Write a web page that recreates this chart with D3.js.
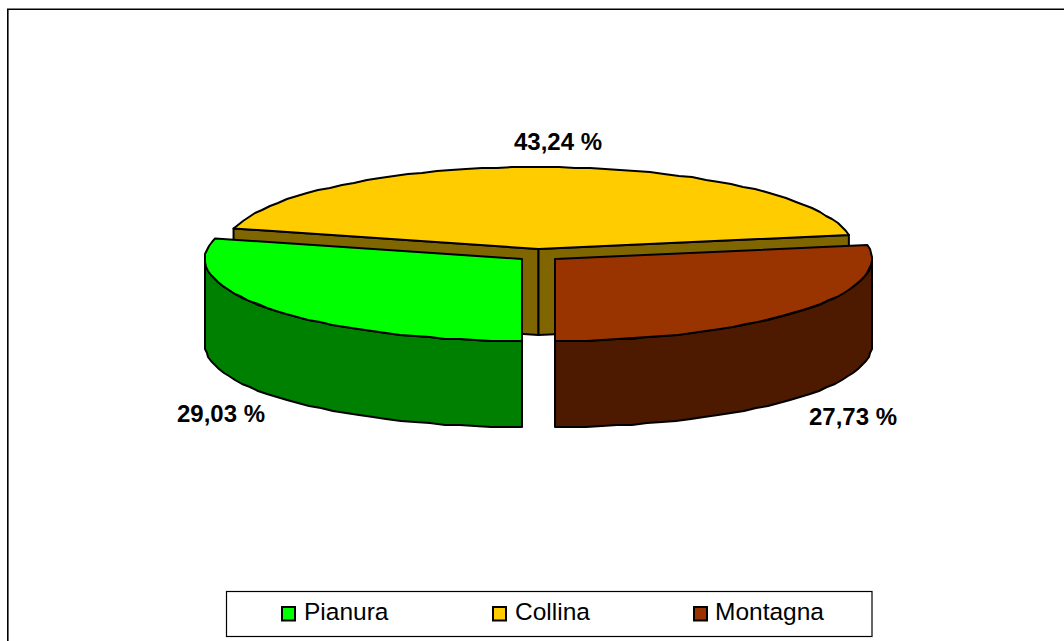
<!DOCTYPE html>
<html><head><meta charset="utf-8">
<script src="https://cdnjs.cloudflare.com/ajax/libs/d3/7.8.5/d3.min.js"></script>
<style>html,body{margin:0;padding:0;background:#fff}svg{display:block}
text{font-family:"Liberation Sans",Arial,sans-serif;fill:#000}</style></head>
<body><svg id="c" width="1064" height="641"></svg>
<script>
const categories = ["Pianura", "Collina", "Montagna"];
const values = [29.03, 43.24, 27.73];
const valueLabels = ["29,03 %", "43,24 %", "27,73 %"];
const topColors = ["#00ff00", "#ffcc00", "#993300"];
const sideColors = ["#008000", "#806600", "#4d1a00"];

const W = 1064, H = 641;
const svg = d3.select("#c");
const radiiX = [317, 315, 317];
const ry = 82, depth = 86;
// slice centres (exploded): apex of each wedge
const apex = [[522, 259], [538.5, 249], [555, 259]];
const labelPos = [[221, 422], [558, 150], [853, 425]];

const pie = d3.pie().value(d => d).sort(null).startAngle(Math.PI).endAngle(3 * Math.PI);
const arcs = pie(values);
const yScale = d3.scaleLinear().domain([0, 1]).range([0, ry]);
const line = d3.line();
const G = 1; // coarse device grid of the source metafile
const snap = v => Math.round(v / G) * G;

function pt(i, a, dz = 0) {
  return [apex[i][0] + radiiX[i] * Math.sin(a), apex[i][1] - yScale(1) * Math.cos(a) + dz];
}
function rim(i, a0, a1, dz = 0) {
  const n = Math.max(2, Math.ceil(Math.abs(a1 - a0) / 0.05));
  return d3.range(n + 1).map(k => {
    const p = pt(i, a0 + (a1 - a0) * k / n, dz);
    return (k === 0 || k === n) ? p : [snap(p[0]), snap(p[1])];
  });
}

const g = svg.append("g").attr("stroke", "#000").attr("stroke-width", 2).attr("stroke-linejoin", "round");

// frame
svg.append("path").attr("d", line([[7.8, H], [7.8, 9.2], [W, 9.2]])).attr("fill", "none").attr("stroke", "#000").attr("stroke-width", 1.6);

// Collina inner walls (behind)
{
  const i = 1, a = arcs[i];
  const c = apex[i];
  const l = pt(i, a.startAngle), r = pt(i, a.endAngle);
  g.append("path").attr("fill", sideColors[i]).attr("d", line([c, l, [l[0], l[1] + depth], [c[0], c[1] + depth]]) + "Z");
  g.append("path").attr("fill", sideColors[i]).attr("d", line([c, r, [r[0], r[1] + depth], [c[0], c[1] + depth]]) + "Z");
  g.append("path").attr("fill", topColors[i]).attr("d", line([c, ...rim(i, a.startAngle, a.endAngle)]) + "Z");
}
// Pianura
{
  const i = 0, a = arcs[i];
  const s0 = a.startAngle, s1 = 1.5 * Math.PI;
  const top = rim(i, s0, s1), bot = rim(i, s1, s0, depth);
  g.append("path").attr("fill", sideColors[i]).attr("d", line([...top, ...bot]) + "Z");
  g.append("path").attr("fill", topColors[i]).attr("d", line([apex[i], ...rim(i, a.startAngle, a.endAngle)]) + "Z");
}
// Montagna
{
  const i = 2, a = arcs[i];
  const s0 = 2.5 * Math.PI, s1 = a.endAngle;
  const top = rim(i, s0, s1), bot = rim(i, s1, s0, depth);
  g.append("path").attr("fill", sideColors[i]).attr("d", line([...top, ...bot]) + "Z");
  g.append("path").attr("fill", topColors[i]).attr("d", line([apex[i], ...rim(i, a.startAngle, a.endAngle)]) + "Z");
}

// value labels
svg.selectAll("text.v").data(valueLabels).join("text").attr("class", "v")
  .attr("x", (d, i) => labelPos[i][0]).attr("y", (d, i) => labelPos[i][1])
  .attr("text-anchor", "middle").attr("font-weight", "bold").attr("font-size", 24).text(d => d);

// legend
svg.append("rect").attr("x", 226.5).attr("y", 591.5).attr("width", 645.5).attr("height", 45)
  .attr("fill", "#fff").attr("stroke", "#000").attr("stroke-width", 1.2);
const swatchX = [282, 493, 694];
const textX = [304, 515, 715];
categories.forEach((c, i) => {
  svg.append("rect").attr("x", swatchX[i]).attr("y", 607).attr("width", 13).attr("height", 13.5)
    .attr("fill", topColors[i]).attr("stroke", "#000").attr("stroke-width", 2);
  svg.append("text").attr("x", textX[i]).attr("y", 620).attr("font-size", 24.5).text(c);
});
</script></body></html>
